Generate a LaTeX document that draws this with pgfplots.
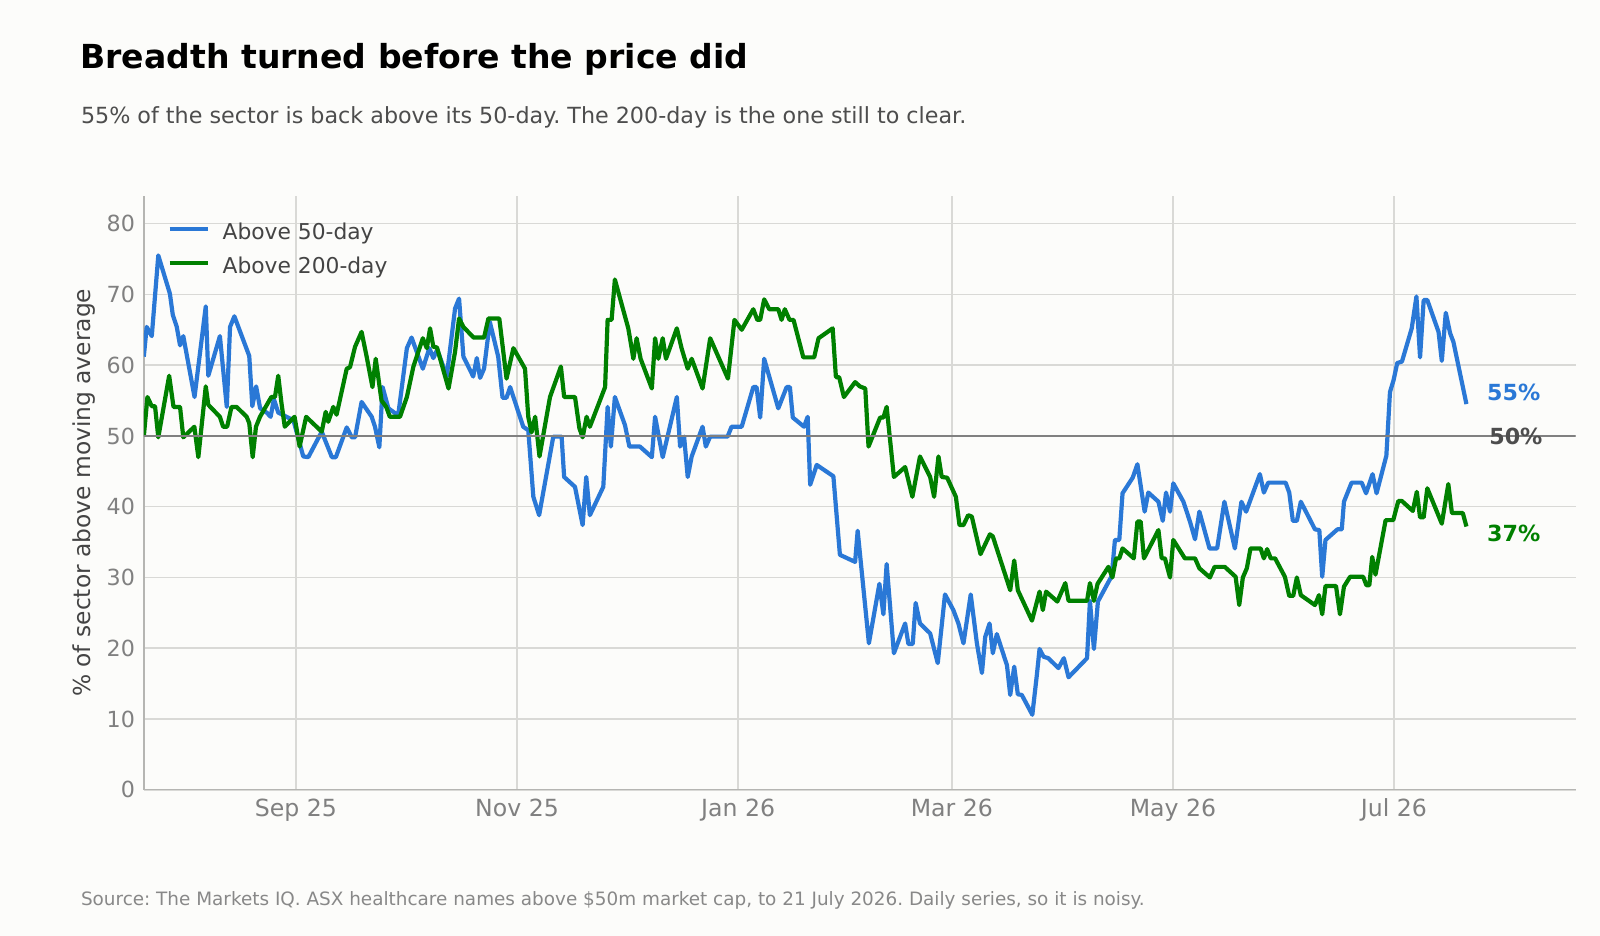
\documentclass[border=0pt]{standalone}
\usepackage{fontspec}
\setmainfont{DejaVu Sans}
\usepackage{pgfplots}
\pgfplotsset{compat=1.18}
\definecolor{bg}{HTML}{FCFCFA}
\definecolor{blueS}{HTML}{2A78D6}
\definecolor{greenS}{HTML}{008000}
\definecolor{gridc}{HTML}{D9D9D6}
\definecolor{spine}{HTML}{B5B5B2}
\definecolor{tickc}{HTML}{808080}
\definecolor{labc}{HTML}{444444}
\definecolor{subc}{HTML}{4D4D4D}
\definecolor{srcc}{HTML}{888888}
\definecolor{refc}{HTML}{808080}
\definecolor{fiftyc}{HTML}{4D4D4D}
\frenchspacing
\begin{document}
\frenchspacing
\begin{tikzpicture}
\fill[bg] (0,0) rectangle (800pt,468pt);
\useasboundingbox (0,0) rectangle (800pt,468pt);
\node[anchor=base west, inner sep=0pt, font=\fontsize{16.54}{20}\selectfont\bfseries, text=black] at (40pt,433.8pt) {Breadth turned before the price did};
\node[anchor=base west, inner sep=0pt, font=\fontsize{11.12}{13}\selectfont, text=subc] at (40.3pt,406.25pt) {55\% of the sector is back above its 50-day. The 200-day is the one still to clear.};
\node[anchor=base west, inner sep=0pt, font=\fontsize{9.2}{11}\selectfont, text=srcc] at (40.3pt,15.2pt) {Source: The Markets IQ. ASX healthcare names above \$50m market cap, to 21 July 2026. Daily series, so it is noisy.};
\begin{axis}[
  scale only axis, width=715.85pt, height=296.9pt,
  at={(71.9pt,73.1pt)}, anchor=south west,
  xmin=0, xmax=395.1, ymin=0, ymax=83.9,
  axis lines*=left,
  axis line style={-, draw=spine, line width=0.7pt},
  major tick length=0pt,
  grid=major, grid style={draw=gridc, line width=0.75pt},
  xtick={42,103,164,223,284,345},
  xticklabels={Sep 25,Nov 25,Jan 26,Mar 26,May 26,Jul 26},
  ytick={0,10,20,30,40,50,60,70,80},
  /pgf/number format/assume math mode=true,
  yticklabel style={anchor=east, inner sep=0pt, xshift=-4.25pt, font=\fontsize{11.1}{13}\selectfont, text=tickc},
  xticklabel style={anchor=base, inner sep=0pt, yshift=-13.5pt, font=\fontsize{11.8}{13}\selectfont, text=tickc},
  ylabel={\% of sector above moving average},
  ylabel style={at={(axis description cs:-0.042,0.5)}, anchor=center, font=\fontsize{11.67}{14}\selectfont, text=labc},
  legend style={draw=none, fill=none, at={(axis description cs:0.0165,0.953)}, anchor=north west,
    inner sep=0pt, outer sep=0pt, row sep=6.35pt, column sep=6.1pt,
    font=\fontsize{10.9}{13}\selectfont, text=labc,
    nodes={inner sep=0pt, text height=8pt, text depth=2.5pt}},
  legend cell align=left,
  legend image code/.code={\draw[#1] (0pt,2.75pt) -- (19.4pt,2.75pt);},
  every axis plot/.append style={line width=2.1pt, line join=round},
]
\addplot[blueS] coordinates {
(0,61.2) (0.8,65.4) (2.2,64.1) (4.0,75.5) (7.2,70.1) (8.0,67.1) (9.1,65.4) (10.0,62.8) (10.9,64.1)
(14.0,55.5) (17.1,68.3) (17.8,58.5) (21.0,64.1) (22.9,54.1) (23.8,65.4) (25.0,66.9) (29.1,61.3)
(29.95,54.2) (31.0,57.0) (32.1,53.9) (33.9,53.3) (35.0,52.7) (35.9,55.2) (37.1,53.3) (41.3,52.2)
(44.0,47.1) (45.4,47.0) (49.1,50.6) (51.9,47.0) (53.0,47.0) (56.0,51.2) (57.4,49.8) (58.3,49.8)
(60.1,54.8) (62.9,52.7) (63.8,51.3) (65.0,48.4) (65.9,56.9) (67.5,53.9) (70.2,52.9) (72.6,62.4)
(73.9,63.9) (77.0,59.5) (78.8,62.4) (79.9,61.0) (81.0,62.2) (83.6,58.4) (85.9,68.0) (87.0,69.4)
(88.2,61.2) (90.9,58.4) (91.9,61.0) (92.8,58.2) (93.9,59.5) (95.5,66.1) (97.8,61.2) (99.0,55.4)
(100.1,55.4) (101.1,56.9) (104.7,51.3) (106.1,50.8) (107.5,41.4) (109.1,38.8) (113.0,49.9)
(115.3,49.9) (116.0,44.2) (119.0,42.8) (121.1,37.4) (122.1,44.2) (123.1,38.8) (126.8,42.8)
(128.0,54.1) (128.9,48.5) (130.0,55.5) (132.8,51.5) (134.0,48.5) (136.9,48.5) (140.2,47.0)
(141.1,52.7) (143.2,47.0) (147.1,55.5) (148.0,48.5) (149.1,49.9) (150.1,44.2) (151.2,47.1)
(154.2,51.3) (155.1,48.5) (156.3,49.9) (161.1,49.9) (162.2,51.3) (165.0,51.3) (168.2,56.9)
(169.1,56.9) (170.1,52.6) (171.2,60.9) (175.1,53.9) (177.4,56.9) (178.3,56.9) (179.1,52.6)
(182.2,51.3) (183.2,52.7) (183.9,43.1) (185.7,45.9) (190.3,44.3) (192.1,33.2) (196.3,32.2)
(197.0,36.6) (200.1,20.7) (203.0,29.1) (204.1,24.8) (205.0,31.9) (207.0,19.3) (210.1,23.5)
(211.0,20.6) (212.2,20.6) (213.0,26.4) (214.2,23.5) (217.0,22.1) (219.1,17.9) (221.1,27.6)
(223.4,25.4) (224.8,23.5) (226.2,20.7) (228.2,27.6) (229.9,20.7) (231.3,16.5) (232.2,21.6)
(233.4,23.5) (234.3,19.3) (235.4,22.0) (238.2,17.6) (239.1,13.4) (240.2,17.4) (241.2,13.5)
(242.3,13.4) (245.2,10.6) (246.4,16.0) (247.2,19.9) (248.3,18.8) (249.6,18.6) (252.4,17.2)
(253.9,18.6) (255.2,15.9) (260.3,18.6) (261.1,26.7) (262.2,19.9) (263.3,26.6) (267.1,30.2)
(268.0,35.3) (269.2,35.3) (270.1,41.9) (272.9,44.1) (274.2,46.0) (276.2,39.3) (277.2,42.0)
(280.0,40.7) (281.2,38.0) (282.1,42.0) (283.2,39.3) (284.1,43.3) (286.9,40.7) (288.7,37.9)
(290.1,35.4) (291.3,39.3) (294.1,34.1) (296.2,34.1) (298.2,40.7) (301.1,34.1) (302.9,40.7)
(304.2,39.3) (308.0,44.6) (309.1,42.0) (310.3,43.4) (315.1,43.4) (316.1,42.0) (317.1,38.0)
(318.2,38.0) (319.3,40.7) (323.2,36.8) (324.4,36.7) (325.2,30.1) (326.1,35.3) (329.4,36.8)
(330.6,36.8) (331.2,40.7) (333.3,43.4) (336.1,43.4) (337.3,41.9) (339.1,44.6) (340.2,41.9)
(342.9,47.2) (343.9,56.2) (344.9,57.9) (345.9,60.3) (347.2,60.5) (349.9,65.2) (351.2,69.7)
(352.2,61.1) (353.2,69.2) (354.2,69.2) (357.3,64.7) (358.2,60.6) (359.3,67.4) (360.5,64.5)
(361.4,63.3) (365.0,54.5)
};
\addlegendentry{Above 50-day}
\addplot[greenS] coordinates {
(0,49.9) (1.0,55.5) (2.2,54.2) (3.1,54.2) (4.0,49.8) (7.0,58.5) (8.2,54.1) (10.0,54.1) (10.9,49.8)
(13.95,51.3) (15.05,47.0) (17.1,57.0) (17.8,54.4) (21.0,52.7) (21.9,51.3) (23.0,51.3) (24.2,54.1)
(25.6,54.1) (28.4,52.7) (29.1,51.8) (30.05,47.0) (30.96,51.3) (32.06,52.7) (35.2,55.5) (36.2,55.5)
(37.1,58.5) (38.0,54.6) (38.9,51.3) (41.6,52.7) (43.0,48.5) (44.8,52.7) (49.1,50.6) (50.2,53.4)
(50.9,52.0) (52.3,54.1) (53.2,53.0) (56.0,59.5) (56.9,59.7) (58.3,62.6) (60.1,64.7) (61.5,61.2)
(63.1,56.9) (64.0,60.9) (65.6,55.0) (66.9,54.1) (67.9,52.7) (70.7,52.7) (72.6,55.5) (74.4,59.8)
(77.0,63.8) (78.1,62.4) (79.0,65.2) (79.9,62.6) (80.9,62.5) (84.1,56.7) (85.9,61.9) (87.0,66.6)
(88.2,65.4) (91.0,63.9) (93.9,63.9) (95.1,66.6) (98.1,66.6) (100.1,58.1) (102.0,62.4) (105.2,59.5)
(106.1,52.7) (107.0,50.5) (108.0,52.7) (109.2,47.1) (112.1,55.5) (115.1,59.8) (116.0,55.5)
(119.0,55.5) (120.2,51.1) (121.1,49.8) (122.2,52.7) (123.1,51.3) (127.3,56.9) (128.0,66.4)
(129.1,66.4) (130.0,72.1) (133.7,65.2) (134.4,63.1) (135.1,60.9) (136.0,63.8) (137.1,60.9)
(140.2,56.7) (141.1,63.8) (142.0,60.9) (143.2,63.8) (144.1,60.9) (147.1,65.2) (148.4,62.4)
(150.1,59.5) (151.2,60.9) (154.2,56.7) (156.3,63.8) (161.2,58.1) (163.0,66.4) (165.0,65.0)
(168.2,67.9) (169.3,66.4) (170.1,66.4) (171.2,69.3) (172.6,67.9) (175.1,67.9) (176.0,66.4)
(176.9,67.9) (178.2,66.4) (179.3,66.4) (182.0,61.1) (185.0,61.1) (186.2,63.8) (190.1,65.2)
(191.0,58.3) (191.9,58.3) (193.2,55.5) (196.3,57.6) (197.6,57.0) (199.1,56.7) (200.0,48.5)
(203.2,52.6) (204.1,52.6) (205.0,54.1) (207.0,44.2) (210.1,45.6) (212.1,41.4) (214.2,47.1)
(217.0,44.2) (218.1,41.4) (219.3,47.1) (220.2,44.2) (221.7,44.1) (224.1,41.4) (225.1,37.4)
(226.2,37.4) (227.5,38.8) (228.5,38.6) (230.9,33.3) (233.5,36.1) (234.3,35.8) (239.1,28.2)
(240.2,32.4) (241.2,28.2) (245.1,23.9) (247.2,28.0) (248.1,25.4) (249.0,28.0) (252.1,26.6)
(254.3,29.2) (255.2,26.7) (260.3,26.7) (261.1,29.2) (262.2,26.7) (263.2,29.1) (266.2,31.5)
(267.3,30.0) (268.3,32.7) (269.2,32.7) (270.1,34.1) (273.2,32.7) (274.2,37.9) (275.1,37.9)
(276.0,32.7) (280.0,36.7) (280.9,32.7) (281.8,32.7) (283.2,30.0) (284.1,35.3) (287.3,32.7)
(290.1,32.7) (291.3,31.3) (294.2,30.0) (295.5,31.5) (298.3,31.5) (301.3,30.1) (302.3,26.1)
(303.3,30.0) (304.4,31.3) (305.4,34.1) (308.2,34.1) (309.1,32.7) (310.0,34.0) (311.0,32.7)
(312.2,32.7) (314.9,30.1) (316.1,27.4) (317.2,27.4) (318.2,30.0) (319.3,27.5) (323.2,26.1)
(324.3,27.5) (325.2,24.8) (326.1,28.8) (329.0,28.8) (330.1,24.8) (331.2,28.7) (332.9,30.1)
(336.5,30.1) (337.4,28.9) (338.2,28.9) (339.0,32.9) (339.9,30.4) (342.7,38.1) (344.8,38.1)
(346.2,40.8) (347.2,40.8) (350.2,39.4) (351.3,42.1) (352.2,38.5) (353.2,38.5) (354.2,42.6)
(358.2,37.6) (360.0,43.2) (361.0,39.1) (364.0,39.1) (365.0,37.2)
};
\addlegendentry{Above 200-day}
\addplot[refc, line width=1pt, forget plot] coordinates {(0,50) (395.1,50)};
\node[anchor=west, inner sep=0pt, font=\fontsize{11.1}{13}\selectfont\bfseries, text=blueS] at (axis cs:370.6,56.1) {55\%};
\node[anchor=west, inner sep=0pt, font=\fontsize{11.1}{13}\selectfont\bfseries, text=fiftyc] at (axis cs:371.2,50.0) {50\%};
\node[anchor=west, inner sep=0pt, font=\fontsize{11.1}{13}\selectfont\bfseries, text=greenS] at (axis cs:370.6,36.2) {37\%};
\end{axis}
\end{tikzpicture}
\end{document}
